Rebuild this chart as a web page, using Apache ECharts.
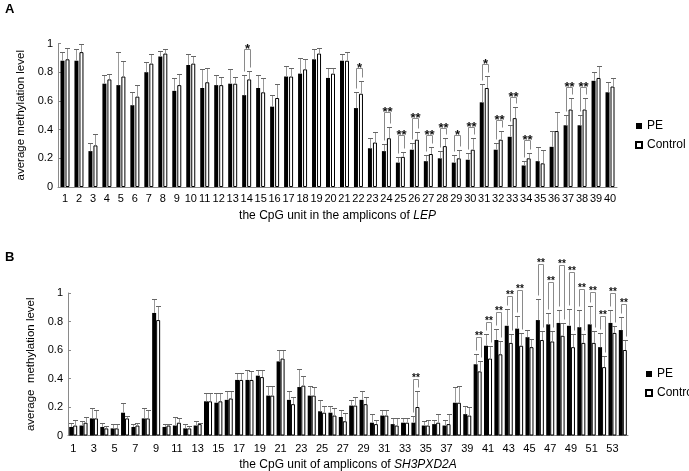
<!DOCTYPE html>
<html><head><meta charset="utf-8">
<script src="https://cdn.jsdelivr.net/npm/echarts@6/dist/echarts.min.js"></script>
<style>html,body{margin:0;padding:0;background:#fff}#c{width:689px;height:471px}</style>
</head><body><div id="c"></div>
<script>
// ---------- Panel A: LEP ----------
const lepCategories = ['1','2','3','4','5','6','7','8','9','10','11','12','13','14','15','16','17','18','19','20','21','22','23','24','25','26','27','28','29','30','31','32','33','34','35','36','37','38','39','40'];
const lepPE = [0.88,0.88,0.25,0.72,0.71,0.57,0.80,0.91,0.67,0.85, 0.69,0.71,0.72,0.64,0.69,0.56,0.77,0.79,0.89,0.76, 0.88,0.55,0.27,0.25,0.17,0.26,0.18,0.20,0.17,0.19, 0.59,0.26,0.35,0.15,0.18,0.28,0.43,0.43,0.74,0.66];
const lepPESd = [0.06,0.08,0.06,0.06,0.23,0.09,0.07,0.04,0.09,0.08, 0.13,0.07,0.10,0.14,0.09,0.08,0.07,0.11,0.07,0.07, 0.05,0.11,0.07,0.05,0.04,0.05,0.04,0.05,0.05,0.05, 0.13,0.05,0.08,0.03,0.10,0.11,0.07,0.07,0.06,0.07];
const lepCtrl = [0.89,0.94,0.29,0.75,0.77,0.63,0.86,0.93,0.71,0.86, 0.73,0.71,0.72,0.75,0.66,0.62,0.77,0.82,0.93,0.79, 0.88,0.65,0.31,0.34,0.21,0.33,0.23,0.285,0.20,0.26, 0.69,0.33,0.48,0.20,0.165,0.39,0.54,0.54,0.76,0.70];
const lepCtrlSd = [0.08,0.06,0.08,0.04,0.11,0.08,0.07,0.03,0.08,0.05, 0.10,0.06,0.05,0.06,0.10,0.10,0.06,0.07,0.04,0.04, 0.06,0.09,0.075,0.08,0.035,0.05,0.05,0.055,0.06,0.08, 0.085,0.06,0.08,0.04,0.095,0.13,0.08,0.08,0.08,0.06];
const lepSig = ['','','','','','','','','','', '','','','*','','','','','','', '','*','','**','**','**','**','**','*','**', '*','**','**','**','','','**','**','',''];
const lepBracket = [null,null,null,null,null,null,null,null,null,null, null,null,null,0.96,null,null,null,null,null,null, null,0.83,null,0.52,0.365,0.48,0.36,0.41,0.36,0.42, 0.86,0.47,0.625,0.325,null,null,0.70,0.70,null,null];

// ---------- Panel B: SH3PXD2A ----------
const shCategories = ['1','2','3','4','5','6','7','8','9','10','11','12','13','14','15','16','17','18','19','20','21','22','23','24','25','26','27','28','29','30','31','32','33','34','35','36','37','38','39','40','41','42','43','44','45','46','47','48','49','50','51','52','53','54'];
const shPE = [0.06,0.07,0.12,0.06,0.05,0.16,0.06,0.12,0.86,0.06, 0.07,0.05,0.07,0.24,0.23,0.25,0.39,0.39,0.42,0.28, 0.52,0.25,0.34,0.28,0.17,0.16,0.13,0.21,0.25,0.09, 0.14,0.08,0.09,0.09,0.07,0.08,0.07,0.23,0.15,0.50, 0.63,0.67,0.77,0.75,0.69,0.81,0.78,0.79,0.77,0.76, 0.78,0.62,0.79,0.74];
const shPESd = [0.03,0.03,0.07,0.03,0.03,0.07,0.02,0.07,0.10,0.02, 0.06,0.03,0.03,0.06,0.07,0.06,0.05,0.07,0.04,0.07, 0.08,0.06,0.13,0.07,0.08,0.05,0.05,0.04,0.06,0.06, 0.04,0.04,0.03,0.05,0.03,0.03,0.04,0.11,0.06,0.07, 0.08,0.08,0.12,0.09,0.05,0.15,0.08,0.09,0.12,0.12, 0.13,0.10,0.09,0.09];
const shCtrl = [0.07,0.09,0.12,0.05,0.05,0.12,0.07,0.12,0.81,0.07, 0.09,0.05,0.08,0.24,0.24,0.26,0.39,0.39,0.41,0.28, 0.54,0.22,0.35,0.28,0.16,0.14,0.10,0.21,0.22,0.08, 0.14,0.07,0.09,0.20,0.07,0.09,0.08,0.23,0.14,0.45, 0.54,0.57,0.65,0.63,0.62,0.67,0.66,0.70,0.62,0.65, 0.65,0.48,0.72,0.60];
const shCtrlSd = [0.04,0.04,0.06,0.02,0.03,0.02,0.02,0.06,0.10,0.01, 0.03,0.02,0.01,0.06,0.06,0.05,0.05,0.06,0.05,0.07, 0.06,0.05,0.07,0.06,0.05,0.05,0.06,0.06,0.05,0.03, 0.04,0.05,0.03,0.11,0.04,0.06,0.07,0.12,0.06,0.07, 0.09,0.09,0.06,0.09,0.06,0.06,0.07,0.09,0.09,0.06, 0.08,0.08,0.05,0.07];
const shSig = ['','','','','','','','','','', '','','','','','','','','','', '','','','','','','','','','', '','','','**','','','','','','**', '**','**','**','**','','**','**','**','**','**', '**','**','**','**'];
const shBracket = [null,null,null,null,null,null,null,null,null,null, null,null,null,null,null,null,null,null,null,null, null,null,null,null,null,null,null,null,null,null, null,null,null,0.40,null,null,null,null,null,0.69, 0.80,0.87,0.98,1.02,null,1.205,1.08,1.20,1.15,1.03, 1.01,0.84,1.00,0.92];

const yTicks = [0, 0.2, 0.4, 0.6, 0.8, 1];
const seriesNames = ['PE', 'Control'];

// ---------- build ----------
const FONT = 'Liberation Sans, Arial, sans-serif';
const AXC = '#8a8a8a';

function errSeries(idx, means, sds, sign, bw, gap, capW) {
  return {
    type: 'custom', name: 'err' + idx + sign, xAxisIndex: idx, yAxisIndex: idx, z: 5, silent: true, clip: false,
    data: means.map((m, i) => [i, m, sds[i]]),
    renderItem(params, api) {
      const i = api.value(0), m = api.value(1), s = api.value(2);
      const p0 = api.coord([i, m]), p1 = api.coord([i, m + s]);
      const x = Math.round(p0[0] + sign * (bw + gap) / 2) + 0.5;
      const yt = Math.round(p1[1]) + 0.5;
      return { type: 'group', children: [
        { type: 'line', shape: { x1: x, y1: p0[1], x2: x, y2: yt }, style: { stroke: '#999', lineWidth: 1 } },
        { type: 'line', shape: { x1: x - capW / 2, y1: yt, x2: x + capW / 2, y2: yt }, style: { stroke: '#666', lineWidth: 1 } }
      ]};
    }
  };
}

function bracketSeries(idx, pe, peSd, ctrl, ctrlSd, sig, top, bw, gap, fs, dy) {
  const data = [];
  top.forEach((t, i) => { if (t !== null) data.push([i, t, pe[i] + peSd[i], ctrl[i] + ctrlSd[i]]); });
  return {
    type: 'custom', name: 'sig' + idx, xAxisIndex: idx, yAxisIndex: idx, z: 6, silent: true, clip: false,
    data,
    renderItem(params, api) {
      const i = api.value(0);
      const c = api.coord([i, api.value(1)]);
      const pa = api.coord([i, api.value(2)]);
      const pb = api.coord([i, api.value(3)]);
      const xl = Math.round(c[0] - (bw + gap) / 2) + 0.5;
      const xr = Math.round(c[0] + (bw + gap) / 2) + 1.5;
      const yt = Math.round(c[1]) + 0.5;
      const yl = Math.max(Math.round(pa[1]) - 3.5, yt + 4);
      const yr = Math.max(Math.round(pb[1]) - 3.5, yt + 4);
      return { type: 'group', children: [
        { type: 'polyline', shape: { points: [[xl, yl], [xl, yt], [xr, yt], [xr, yr]] },
          style: { stroke: '#8a8a8a', lineWidth: 1, fill: null } },
        { type: 'text', style: { text: sig[i], x: (xl + xr) / 2, y: yt + dy, align: 'center', verticalAlign: 'bottom',
          fontSize: fs, fontWeight: 'bold', fontFamily: FONT, fill: '#111' } }
      ]};
    }
  };
}

function xAxis(idx, cats, labelInterval, nameParts, nameGap, margin) {
  return {
    type: 'category', gridIndex: idx, data: cats,
    axisLine: { lineStyle: { color: AXC } },
    axisTick: { inside: true, length: 3, interval: 0, lineStyle: { color: AXC } },
    axisLabel: { interval: labelInterval, fontSize: 11, color: '#000', fontFamily: FONT, margin },
    name: '{a|' + nameParts[0] + '}{b|' + nameParts[1] + '}', nameLocation: 'middle', nameGap,
    nameTextStyle: { rich: {
      a: { fontSize: 12, color: '#000', fontFamily: FONT },
      b: { fontSize: 12, color: '#000', fontFamily: FONT, fontStyle: 'italic' } } }
  };
}
function yAxis(idx, name, nameGap) {
  return {
    type: 'value', gridIndex: idx, min: yTicks[0], max: yTicks[yTicks.length - 1], interval: yTicks[1] - yTicks[0],
    splitLine: { show: false },
    axisLine: { show: true, lineStyle: { color: AXC } },
    axisTick: { show: true, inside: true, length: 3, lineStyle: { color: AXC } },
    axisLabel: { fontSize: 11, color: '#000', fontFamily: FONT, margin: 5 },
    name, nameLocation: 'middle', nameGap, nameRotate: 90,
    nameTextStyle: { fontSize: 11.5, color: '#000', fontFamily: FONT }
  };
}
function bars(idx, pe, ctrl, bw, gapRatio) {
  return [
    { type: 'bar', name: seriesNames[0], xAxisIndex: idx, yAxisIndex: idx, data: pe, barWidth: bw, barGap: gapRatio,
      itemStyle: { color: '#000' }, z: 3, animation: false },
    { type: 'bar', name: seriesNames[1], xAxisIndex: idx, yAxisIndex: idx, data: ctrl, barWidth: bw, barGap: gapRatio,
      itemStyle: { color: '#fff', borderColor: '#000', borderWidth: 1 }, z: 3, animation: false }
  ];
}

const legendCommon = {
  orient: 'vertical', icon: 'rect', itemWidth: 6, itemHeight: 6, itemGap: 7, padding: 0,
  textStyle: { fontSize: 12, color: '#000', fontFamily: FONT },
  data: seriesNames, selectedMode: false
};

const option = {
  animation: false,
  backgroundColor: '#fff',
  grid: [
    { left: 58, top: 43.5, width: 559, height: 143.5, containLabel: false, outerBoundsMode: 'none' },
    { left: 68, top: 293, width: 560, height: 142.5, containLabel: false, outerBoundsMode: 'none' }
  ],
  xAxis: [
    xAxis(0, lepCategories, 0, ['the CpG unit in the amplicons of ', 'LEP'], 23, 6),
    xAxis(1, shCategories, 1, ['the CpG unit of amplicons of ', 'SH3PXD2A'], 23, 8)
  ],
  yAxis: [
    yAxis(0, 'average methylation level', 21),
    yAxis(1, 'average  methylation level', 21)
  ],
  legend: [
    Object.assign({ left: 635, top: 120 }, legendCommon),
    Object.assign({ left: 645, top: 368 }, legendCommon)
  ],
  graphic: [
    { type: 'text', left: 5, top: 3, style: { text: 'A', fontSize: 13, fontWeight: 'bold', fontFamily: FONT, fill: '#000' } },
    { type: 'text', left: 5, top: 251, style: { text: 'B', fontSize: 13, fontWeight: 'bold', fontFamily: FONT, fill: '#000' } }
  ],
  series: [
    ...bars(0, lepPE, lepCtrl, 4, '25%'),
    errSeries(0, lepPE, lepPESd, -1, 4, 1, 5),
    errSeries(0, lepCtrl, lepCtrlSd, 1, 4, 1, 5),
    bracketSeries(0, lepPE, lepPESd, lepCtrl, lepCtrlSd, lepSig, lepBracket, 4, 1, 13, 6),
    ...bars(1, shPE, shCtrl, 4, 0),
    errSeries(1, shPE, shPESd, -1, 4, 0, 5),
    errSeries(1, shCtrl, shCtrlSd, 1, 4, 0, 5),
    bracketSeries(1, shPE, shPESd, shCtrl, shCtrlSd, shSig, shBracket, 4, 0, 10, 4)
  ]
};
const chart = echarts.init(document.getElementById('c'), null, { renderer: 'canvas' });
chart.setOption(option);
</script>
</body></html>
